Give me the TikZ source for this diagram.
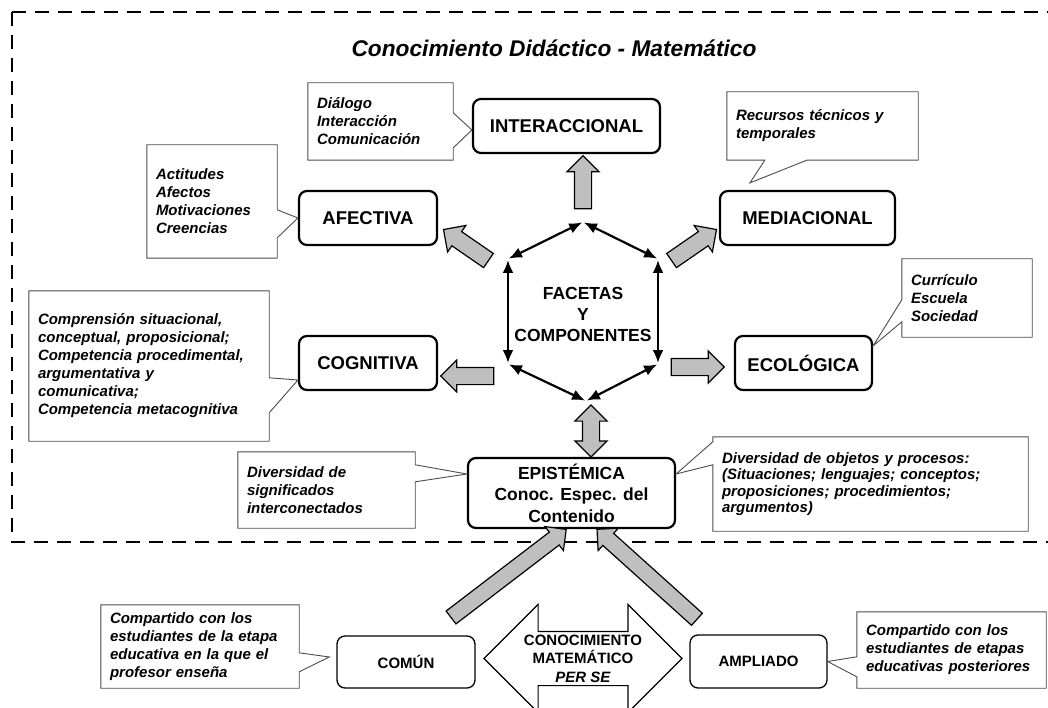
\documentclass[tikz,border=0pt]{standalone}
\usepackage{fontspec}
\setmainfont{Liberation Sans}
\usetikzlibrary{arrows.meta,shapes.arrows}

% callout outline with the wedge on the right or on the left side
\newcommand{\notaR}[4]{\draw[borde] (#1.north west) -- (#1.north east) -- ([yshift=-#2pt]#1.north east) -- (#4) -- ([yshift=-#3pt]#1.north east) -- (#1.south east) -- (#1.south west) -- cycle;}
\newcommand{\notaL}[4]{\draw[borde] (#1.north east) -- (#1.north west) -- ([yshift=-#2pt]#1.north west) -- (#4) -- ([yshift=-#3pt]#1.north west) -- (#1.south west) -- (#1.south east) -- cycle;}

\begin{document}
\begin{tikzpicture}[x=1pt, y=-1pt,
    faceta/.style={draw, line width=2.2pt, rounded corners=8pt, align=center, inner sep=0pt, font=\bfseries\fontsize{18.5}{21.5}\selectfont},
    nivel/.style={draw, line width=1.3pt, rounded corners=8pt, inner sep=0pt, font=\bfseries\fontsize{15}{18}\selectfont},
    nota/.style={inner xsep=9pt, inner ysep=0pt, align=left, font=\bfseries\itshape\fontsize{15}{18}\selectfont},
    borde/.style={draw=black!70, line width=0.9pt},
    flecha/.style={single arrow, draw, fill=black!25, line width=1.2pt, inner xsep=0pt, inner ysep=8pt, single arrow head extend=7.5pt, minimum height=53pt},
    lado/.style={{Latex[length=13pt,width=11pt]}-{Latex[length=13pt,width=11pt]}, line width=2.2pt, shorten >=1pt, shorten <=1pt}]
    \useasboundingbox (0,0) rectangle (1048,708);

    % Frame
    \draw[line width=2.6pt, dash pattern=on 14pt off 9pt] (12,12) -- (1060,12);
    \draw[line width=2.6pt, dash pattern=on 14pt off 9pt] (12,12) -- (12,542) -- (1060,542);
    \node[font=\bfseries\itshape\fontsize{22.7}{26}\selectfont] (titulo) at (554,48) {Conocimiento Didáctico - Matemático};

    % Facets
    \node[faceta, minimum width=187pt, minimum height=54pt] (inter) at (566.5,126) {INTERACCIONAL};
    \node[faceta, minimum width=138pt, minimum height=54pt] (afect) at (368,218) {AFECTIVA};
    \node[faceta, minimum width=175pt, minimum height=54pt] (media) at (807.5,218) {MEDIACIONAL};
    \node[faceta, minimum width=138pt, minimum height=54pt] (cogn) at (368,363) {COGNITIVA};
    \node[faceta, minimum width=137pt, minimum height=54pt] (ecol) at (803.5,363) {ECOLÓGICA};
    \node[faceta, minimum width=207pt, minimum height=70pt, font=\bfseries\fontsize{17.5}{21.5}\selectfont] (epis) at (571.5,493) {EPISTÉMICA\\Conoc. Espec. del\\Contenido};

    % Hexagon
    \coordinate (h1) at (583,222);
    \coordinate (h2) at (658,259);
    \coordinate (h3) at (658,364);
    \coordinate (h4) at (586,401);
    \coordinate (h5) at (508,364);
    \coordinate (h6) at (508,259);
    \draw[lado] (h1) -- (h2);
    \draw[lado] (h2) -- (h3);
    \draw[lado] (h3) -- (h4);
    \draw[lado] (h4) -- (h5);
    \draw[lado] (h5) -- (h6);
    \draw[lado] (h6) -- (h1);
    \node[align=center, font=\bfseries\fontsize{17.5}{21}\selectfont] (centro) at (583,314) {FACETAS\\Y\\COMPONENTES};

    % Block arrows
    \node[flecha, rotate=90] (aInter) at (583,186.5) {};
    \node[flecha, rotate=145.4, minimum height=54.6pt] (aAfect) at (469.5,247.5) {};
    \node[flecha, rotate=34.6, minimum height=54.6pt] (aMedia) at (690.5,247.5) {};
    \node[flecha, rotate=180] (aCogn) at (471.5,376) {};
    \node[flecha] (aEcol) at (693.5,367) {};
    \node[flecha, double arrow, double arrow head extend=7.5pt, rotate=90, minimum height=52pt] (aEpis) at (591,431) {};
    \node[flecha, inner ysep=7.5pt, single arrow head extend=7pt, rotate=37.4, minimum height=145pt] (aComun) at (505.4,575.9) {};
    \node[flecha, inner ysep=7.5pt, single arrow head extend=7pt, rotate=138, minimum height=134.5pt] (aAmpl) at (650,577) {};

    % Mathematical knowledge
    \node[nivel, minimum width=138pt, minimum height=52pt] (comun) at (406,662) {COMÚN};
    \node[nivel, minimum width=137pt, minimum height=53pt] (ampl) at (758.5,661.5) {AMPLIADO};
    \node[double arrow, draw, fill=white, line width=1.1pt, inner xsep=0pt, inner ysep=26.5pt, double arrow head extend=27pt, minimum height=198pt] (dobleMat) at (583,658.5) {};
    \node[align=center, font=\bfseries\fontsize{15}{18.5}\selectfont] (mat) at (dobleMat.center) {CONOCIMIENTO\\MATEMÁTICO\\\textit{PER SE}};

    % Callouts
    \node[nota, text width=127pt, minimum height=77pt] (dial) at (380.5,121.5) {Diálogo\\Interacción\\Comunicación};
    \notaR{dial}{30}{65}{[yshift=-4pt]inter.west}
    \node[nota, text width=112pt, minimum height=113pt] (actit) at (212,201.5) {Actitudes\\Afectos\\Motivaciones\\Creencias};
    \notaR{actit}{65}{93}{afect.west}
    \node[nota, text width=173pt, minimum height=68pt] (recur) at (822.5,126) {Recursos técnicos y\\temporales};
    \draw[borde] (recur.south west) -- (recur.north west) -- (recur.north east) -- (recur.south east) -- ([xshift=80pt]recur.south west) -- ([xshift=31pt,yshift=7pt]media.north west) -- ([xshift=38pt]recur.south west) -- cycle;
    \node[nota, text width=112pt, minimum height=78pt] (curr) at (967,298) {Currículo\\Escuela\\Sociedad};
    \notaL{curr}{41}{63}{[yshift=-11pt]ecol.north east}
    \node[nota, text width=222pt, minimum height=150pt] (compr) at (149,366) {Comprensión situacional,\\conceptual, proposicional;\\Competencia procedimental,\\argumentativa y\\comunicativa;\\Competencia metacognitiva};
    \notaR{compr}{87}{122}{[yshift=-17pt]cogn.west}
    \node[nota, text width=159pt, minimum height=76pt] (signif) at (326.5,490) {Diversidad de\\significados\\interconectados};
    \notaR{signif}{13}{30}{[yshift=19pt]epis.west}
    \node[nota, text width=297pt, minimum height=94pt, font=\bfseries\itshape\fontsize{15}{16.5}\selectfont] (objet) at (870.5,484) {Diversidad de objetos y procesos:\\(Situaciones; lenguajes; conceptos;\\proposiciones; procedimientos;\\argumentos)};
    \notaL{objet}{5}{28}{[yshift=19pt]epis.east}
    \node[nota, text width=180pt, minimum height=83pt] (compI) at (200,646.5) {Compartido con los\\estudiantes de la etapa\\educativa en la que el\\profesor enseña};
    \notaR{compI}{48}{67}{[xshift=-7pt,yshift=5pt]comun.west}
    \node[nota, text width=171pt, minimum height=76pt] (compD) at (951.5,650) {Compartido con los\\estudiantes de etapas\\educativas posteriores};
    \notaL{compD}{45}{65}{ampl.east}
\end{tikzpicture}
\end{document}
